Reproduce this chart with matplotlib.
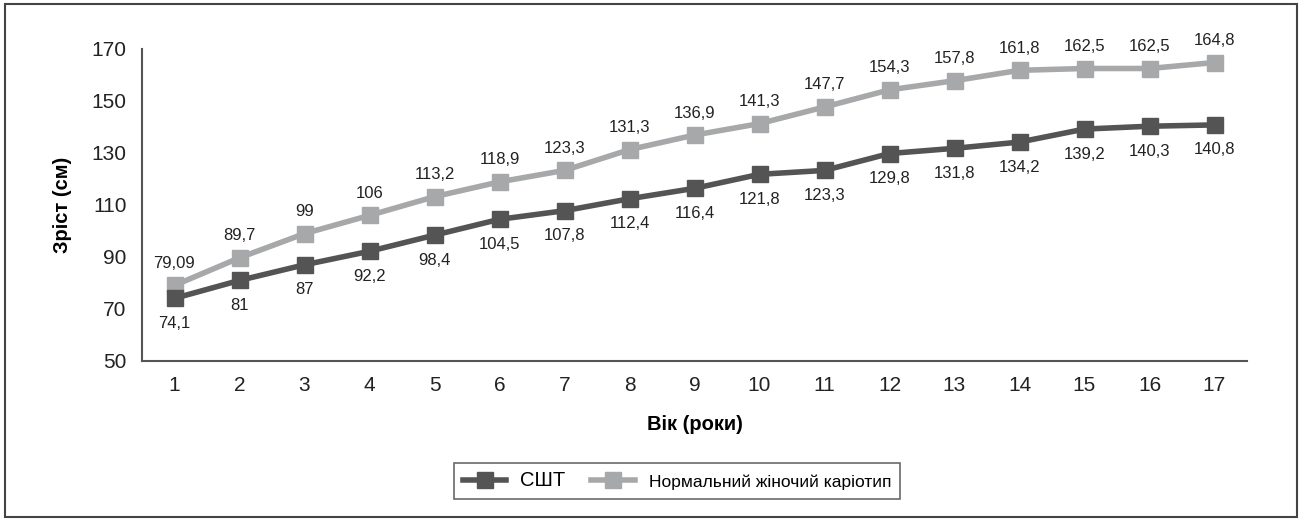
import matplotlib.pyplot as plt
from matplotlib.patches import Rectangle

plt.rcParams["font.family"] = ["Liberation Sans", "DejaVu Sans"]

ages = list(range(1, 18))
sst_height = [74.1, 81, 87, 92.2, 98.4, 104.5, 107.8, 112.4, 116.4, 121.8,
              123.3, 129.8, 131.8, 134.2, 139.2, 140.3, 140.8]
normal_height = [79.09, 89.7, 99, 106, 113.2, 118.9, 123.3, 131.3, 136.9, 141.3,
                 147.7, 154.3, 157.8, 161.8, 162.5, 162.5, 164.8]
y_ticks = [50, 70, 90, 110, 130, 150, 170]

DARK = "#545454"
LIGHT = "#a7a8aa"
W, H = 1300, 521


def fmt(v):
    return f"{v:g}".replace(".", ",")


fig = plt.figure(figsize=(W / 100, H / 100), dpi=100)
fig.patches.append(Rectangle((5 / W, 4 / H), 1292 / W, 513 / H, transform=fig.transFigure,
                             fill=False, edgecolor="#444444", linewidth=1.5))

ax = fig.add_axes([142 / W, 160 / H, 1105 / W, 312 / H])

ax.plot(ages, sst_height, color=DARK, linewidth=4, marker="s", markersize=12,
        label="СШТ", zorder=3)
ax.plot(ages, normal_height, color=LIGHT, linewidth=4, marker="s", markersize=12,
        label="Нормальний жіночий каріотип", zorder=2)

for x, v in zip(ages, sst_height):
    ax.annotate(fmt(v), (x, v), xytext=(0, -25), textcoords="offset pixels",
                ha="center", va="center", fontsize=12, color="#222222")
for x, v in zip(ages, normal_height):
    ax.annotate(fmt(v), (x, v), xytext=(0, 22), textcoords="offset pixels",
                ha="center", va="center", fontsize=12, color="#222222")

ax.set_xlim(0.5, 17.5)
ax.set_ylim(50, 170)
ax.set_xticks(ages)
ax.set_yticks(y_ticks)
ax.tick_params(length=0, labelsize=15, colors="#222222")
ax.tick_params(axis="x", pad=11)
ax.tick_params(axis="y", pad=11)
for side in ["top", "right"]:
    ax.spines[side].set_visible(False)
for side in ["left", "bottom"]:
    ax.spines[side].set_color("#555555")
    ax.spines[side].set_linewidth(1.5)

ax.set_xlabel("Вік (роки)", fontsize=14.5, fontweight="bold", labelpad=14)
ax.set_ylabel("Зріст (см)", fontsize=14.5, fontweight="bold", labelpad=14)

leg = fig.legend(loc="center", bbox_to_anchor=(677 / W, 1 - 481 / H), ncol=2,
                 frameon=True, fancybox=False, fontsize=12.5, handlelength=2.5,
                 columnspacing=1.5, borderpad=0.5)
leg.get_frame().set_edgecolor("#444444")
leg.get_frame().set_linewidth(1.2)
leg.get_texts()[0].set_fontsize(14.5)

fig.savefig("out.png", dpi=100)
